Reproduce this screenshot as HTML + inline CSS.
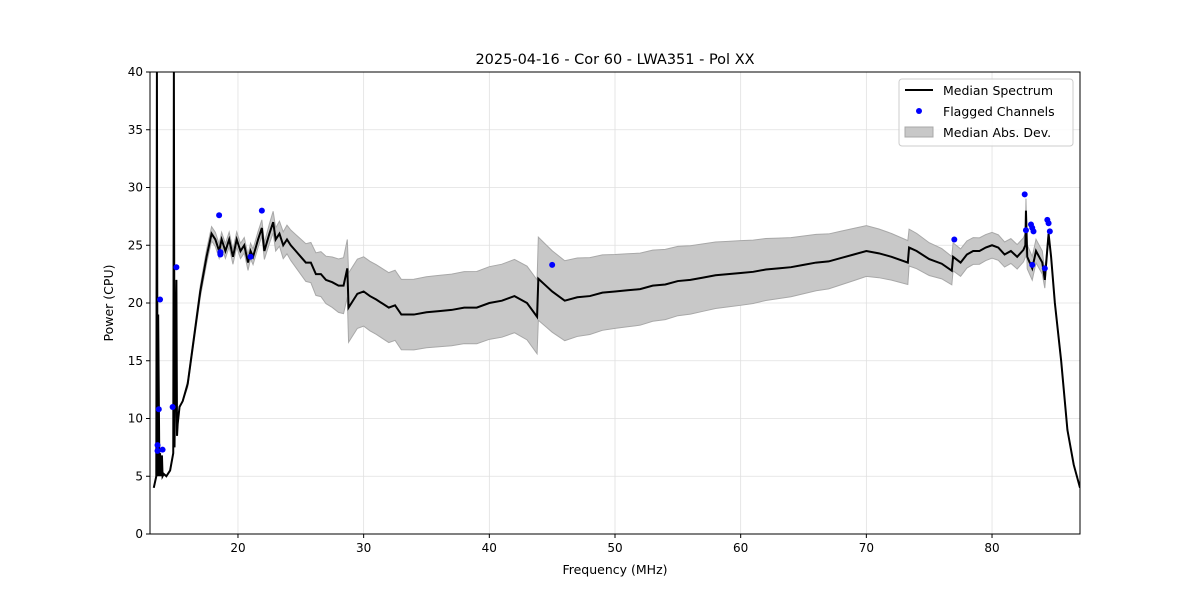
<!DOCTYPE html>
<html><head><meta charset="utf-8"><style>
body{margin:0;background:#fff;font-family:"Liberation Sans","DejaVu Sans",sans-serif}
svg text{font-family:"DejaVu Sans","Liberation Sans",sans-serif}
</style></head><body>
<svg id="chart" width="1200" height="600" xmlns="http://www.w3.org/2000/svg"></svg>
<script>
const freqs=[13.3,13.5,13.55,13.6,13.65,13.75,13.8,13.85,13.95,14.0,14.1,14.3,14.6,14.85,14.9,14.95,15.1,15.15,15.2,15.35,15.6,16,16.5,17,17.5,17.9,18.2,18.5,18.7,19,19.3,19.6,19.9,20.2,20.5,20.8,21.0,21.2,21.6,21.9,22.1,22.5,22.8,23.0,23.3,23.6,23.9,24.2,24.6,25,25.4,25.8,26.2,26.6,27,27.5,28,28.4,28.7,28.8,29.5,30,30.5,31,32,32.5,33,34,35,36,37,38,39,40,41,42,43,43.8,43.9,44.5,45,46,47,48,49,50,51,52,53,54,55,56,57,58,59,60,61,62,63,64,65,66,67,68,69,70,71,72,73.3,73.4,74,75,76,76.8,76.9,77.5,78,78.5,79,79.5,80,80.5,81,81.5,82,82.5,82.65,82.7,82.8,83.2,83.5,84,84.2,84.5,84.7,85,85.5,86,86.5,87];
const median=[4,5,40,5,19,5,7,5,6.8,5,5.2,5,5.5,7,40,7.5,22,8.5,9.5,11,11.5,13,17,21,24,26,25.5,24.5,25.5,24.5,25.5,24,25.5,24.5,25,23.5,24.5,24,25.5,26.5,24.5,26,27,25.5,26,25,25.5,25,24.5,24,23.5,23.5,22.5,22.5,22,21.8,21.5,21.5,23,19.6,20.8,21,20.6,20.3,19.6,19.8,19,19,19.2,19.3,19.4,19.6,19.6,20,20.2,20.6,20,18.8,22.1,21.5,21,20.2,20.5,20.6,20.9,21,21.1,21.2,21.5,21.6,21.9,22,22.2,22.4,22.5,22.6,22.7,22.9,23,23.1,23.3,23.5,23.6,23.9,24.2,24.5,24.3,24,23.5,24.8,24.5,23.8,23.4,22.8,24,23.5,24.2,24.5,24.5,24.8,25,24.8,24.2,24.5,24,24.6,25,28,24,23,24.5,23.5,22,26,24,20,15,9,6,4];
const bandF=[13,15.5,16,17.5,22,23,28.7,28.75,30,43.8,43.85,50,60,70,73.3,73.35,77,84,84.7,87];
const bandW=[0,0,0.3,0.6,0.7,1.0,2.5,3.0,3.0,3.2,3.6,3.2,2.8,2.2,1.9,1.6,1.2,1.0,0,0];
const flagF=[13.6,13.6,13.7,13.8,14.0,14.8,15.1,18.5,18.6,18.6,21,21.9,45,77,82.6,82.7,83.1,83.2,83.3,83.2,84.2,84.4,84.5,84.6];
const flagV=[7.7,7.2,10.8,20.3,7.3,11,23.1,27.6,24.4,24.2,24,28,23.3,25.5,29.4,26.3,26.8,26.5,26.2,23.3,23,27.2,26.9,26.2];
const xTicks=[20,30,40,50,60,70,80];
const yTicks=[0,5,10,15,20,25,30,35,40];

const L=150,R=1080,T=72,B=534,x0=13,x1=87,y0=0,y1=40;
const X=v=>L+(v-x0)/(x1-x0)*(R-L);
const Y=v=>B-(v-y0)/(y1-y0)*(B-T);
function hw(f){for(let i=0;i<bandF.length-1;i++){if(f>=bandF[i]&&f<=bandF[i+1]){const t=(f-bandF[i])/(bandF[i+1]-bandF[i]);return bandW[i]+t*(bandW[i+1]-bandW[i]);}}return 0;}
const svg=document.getElementById('chart');
const NS='http://www.w3.org/2000/svg';
function mk(tag,attrs,parent){const e=document.createElementNS(NS,tag);for(const k in attrs)e.setAttribute(k,attrs[k]);(parent||svg).appendChild(e);return e;}
mk('defs',{}).innerHTML='<clipPath id="cp"><rect x="150" y="72" width="930" height="462"/></clipPath>';
xTicks.forEach(t=>{const g=mk('line',{x1:X(t),x2:X(t),y1:T,y2:B,stroke:'#e0e0e0','stroke-width':0.8});

});
yTicks.forEach(t=>{const g=mk('line',{x1:L,x2:R,y1:Y(t),y2:Y(t),stroke:'#e0e0e0','stroke-width':0.8});

});
const plot=mk('g',{'clip-path':'url(#cp)'});
let up=freqs.map((f,i)=>X(f)+','+Y(median[i]+hw(f))).join(' ');
let lo=freqs.map((f,i)=>X(f)+','+Y(median[i]-hw(f))).reverse().join(' ');
const band=mk('polygon',{points:up+' '+lo,fill:'#c8c8c8',stroke:'#a8a8a8','stroke-width':1},plot);


const line=mk('polyline',{points:freqs.map((f,i)=>X(f)+','+Y(median[i])).join(' '),fill:'none',stroke:'#000','stroke-width':2},plot);


flagF.forEach((f,i)=>{const c=mk('circle',{cx:X(f),cy:Y(flagV[i]),r:3,fill:'#0000ff'},plot);

});
const fr=mk('rect',{x:L,y:T,width:R-L,height:B-T,fill:'none',stroke:'#000','stroke-width':1});


xTicks.forEach(t=>{mk('line',{x1:X(t),x2:X(t),y1:B,y2:B+4,stroke:'#000'});
const tx=mk('text',{x:X(t),y:B+18,'text-anchor':'middle','font-size':12});tx.textContent=t;

});
yTicks.forEach(t=>{mk('line',{x1:L-4,x2:L,y1:Y(t),y2:Y(t),stroke:'#000'});
const tx=mk('text',{x:L-7,y:Y(t)+4,'text-anchor':'end','font-size':12});tx.textContent=t;

});
</script>
<svg style="position:absolute;left:0;top:0" width="1200" height="600" xmlns="http://www.w3.org/2000/svg">
<text x="615" y="64" text-anchor="middle" font-size="14.5">2025-04-16 - Cor 60 - LWA351 - Pol XX</text>
<text x="615" y="574" text-anchor="middle" font-size="12.5">Frequency (MHz)</text>
<text x="113" y="303" text-anchor="middle" font-size="12.5" transform="rotate(-90 113 303)">Power (CPU)</text>
<g>
<rect x="899" y="79" width="174" height="67" rx="3" fill="#fff" fill-opacity="0.85" stroke="#ccc"/>
<line x1="905" x2="933" y1="90" y2="90" stroke="#000" stroke-width="2"/>
<text x="943" y="95" font-size="12.5">Median Spectrum</text>
<circle cx="919" cy="111" r="3" fill="#0000ff"/>
<text x="943" y="116" font-size="12.5">Flagged Channels</text>
<rect x="905" y="127" width="28" height="10" fill="#c8c8c8" stroke="#a8a8a8"/>
<text x="943" y="137" font-size="12.5">Median Abs. Dev.</text>
</g>
</svg>
</body></html>
